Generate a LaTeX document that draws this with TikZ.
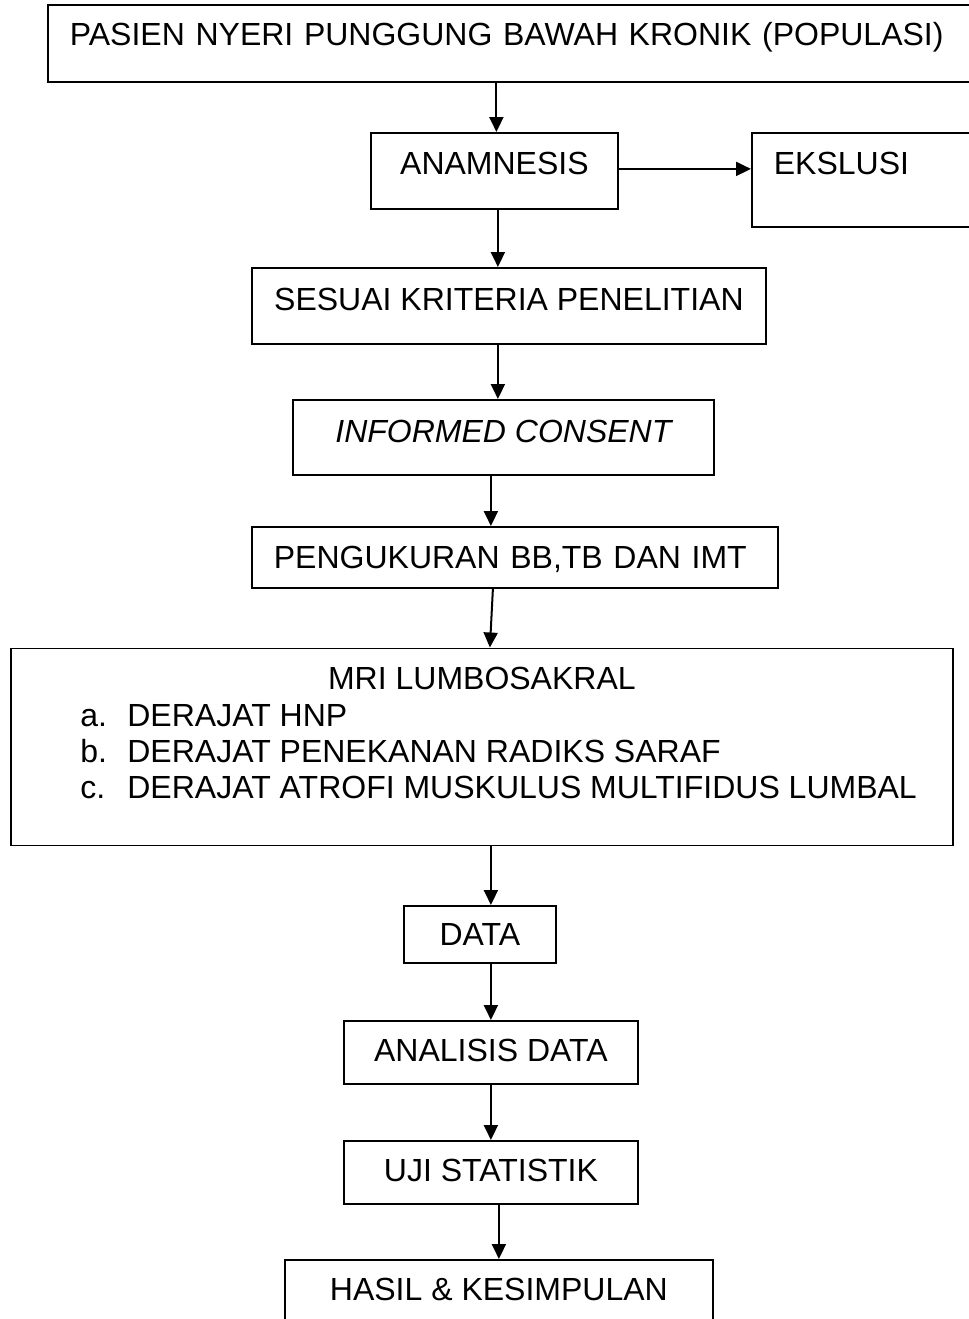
\documentclass[tikz,border=0pt]{standalone}
\usepackage{fontspec}
\setmainfont{Liberation Sans}
\usetikzlibrary{arrows.meta}

\tikzset{
  blok/.style={draw, line width=0.9pt, anchor=north west, inner sep=0pt,
    font=\fontsize{16}{18}\selectfont, text height=11.5pt, text depth=0pt},
  kiri/.style={align=left, inner xsep=#1},
  daftar/.style={anchor=north west, inner sep=0pt, align=left,
    font=\fontsize{16}{18}\selectfont},
  panah/.style={-{Triangle[length=7.5pt,width=7pt]}, line width=1pt}
}

\begin{document}
\begin{tikzpicture}[x=0.5pt, y=-0.5pt]
  \useasboundingbox (0,0) rectangle (969,1319);

  % boxes of the flow, top to bottom
  \node[blok, kiri=11pt, minimum width=466.5pt, text width=444.5pt, minimum height=38.5pt,
        text depth=9pt] (pasien) at (47,4) {PASIEN NYERI PUNGGUNG BAWAH KRONIK (POPULASI)};
  \node[blok, minimum width=123.5pt, minimum height=38pt, text depth=8pt]
        (anam) at (370,132) {ANAMNESIS};
  \node[blok, kiri=11pt, minimum width=114.5pt, text width=92.5pt, minimum height=47pt,
        text depth=17pt] (eks) at (751,132) {EKSLUSI};
  \node[blok, minimum width=257pt, minimum height=38pt, text depth=7pt]
        (sesuai) at (251,267) {SESUAI KRITERIA PENELITIAN};
  \node[blok, minimum width=210.5pt, minimum height=37.5pt, text depth=6.5pt]
        (cons) at (292,399) {\itshape INFORMED CONSENT};
  \node[blok, kiri=11pt, minimum width=263pt, text width=241pt, minimum height=30.5pt]
        (ukur) at (251,526) {PENGUKURAN BB,TB DAN IMT};
  \node[blok, minimum width=471pt, minimum height=98.5pt, text depth=68.5pt]
        (mri) at (10,647.5) {MRI LUMBOSAKRAL};
  \node[daftar] (mriisi) at (80,704) {%
    \makebox[23.5pt][l]{a.}DERAJAT HNP\\
    \makebox[23.5pt][l]{b.}DERAJAT PENEKANAN RADIKS SARAF\\
    \makebox[23.5pt][l]{c.}DERAJAT ATROFI MUSKULUS MULTIFIDUS LUMBAL};
  \node[blok, minimum width=76pt, minimum height=28.5pt] (data) at (403,905) {DATA};
  \node[blok, minimum width=147pt, minimum height=31.5pt, text depth=2.5pt]
        (anal) at (343,1020) {ANALISIS DATA};
  \node[blok, minimum width=147pt, minimum height=31.5pt, text depth=2.5pt]
        (uji) at (343,1140) {UJI STATISTIK};
  \node[blok, minimum width=214pt, minimum height=41pt, text depth=12pt]
        (hasil) at (284,1259) {HASIL \& KESIMPULAN};

  % arrows
  \draw[panah] ([xshift=1pt]anam.north |- pasien.south) -- ([xshift=1pt]anam.north);
  \draw[panah] ([yshift=1pt]anam.east) -- ([yshift=1pt]anam.east -| eks.west);
  \draw[panah] ([xshift=1.75pt]anam.south) -- ([xshift=1.75pt]anam.south |- sesuai.north);
  \draw[panah] ([xshift=-2.75pt]cons.north |- sesuai.south) -- ([xshift=-2.75pt]cons.north);
  \draw[panah] ([xshift=-6.25pt]cons.south) -- ([xshift=-6.25pt]cons.south |- ukur.north);
  \draw[panah] ([xshift=-11pt]ukur.south) -- ([xshift=4pt]mri.north);
  \draw[panah] ([xshift=4.5pt]mri.south) -- ([xshift=4.5pt]mri.south |- data.north);
  \draw[panah] (data.south -| anal.north) -- (anal.north);
  \draw[panah] (anal.south) -- (uji.north);
  \draw[panah] (uji.south -| hasil.north) -- (hasil.north);
\end{tikzpicture}
\end{document}
